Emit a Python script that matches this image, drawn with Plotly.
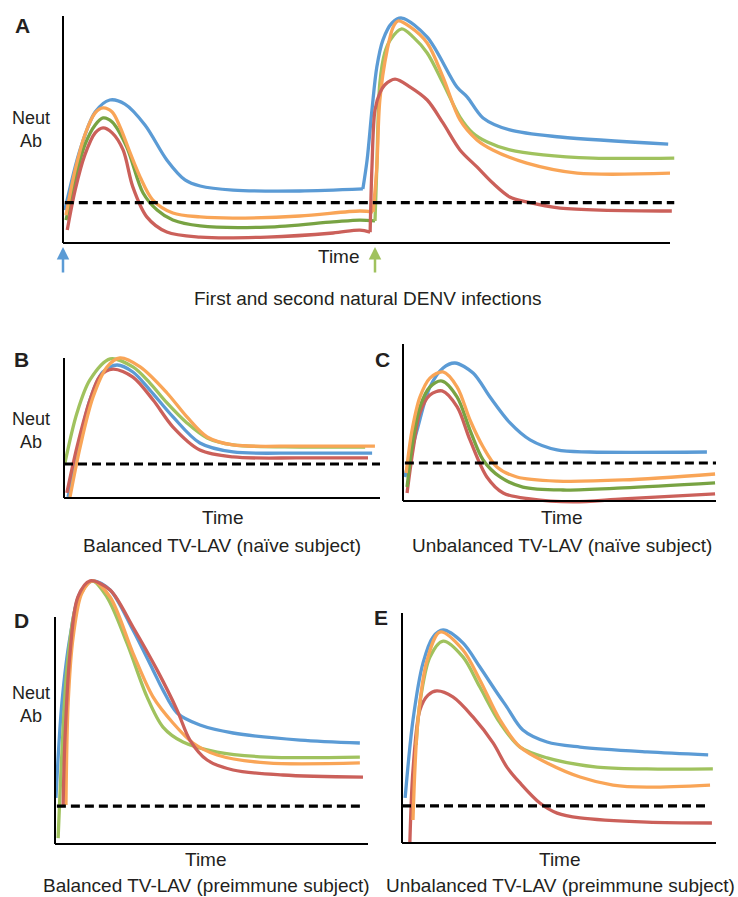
import plotly.graph_objects as go

W, H = 738, 897

BLUE = "#5B9BD5"
ORANGE = "#F9A557"
GREEN = "#A0C25E"
OLIVE = "#78A343"
RED = "#CB605A"
TXT = "#231F20"

# ---------------- data (arbitrary units: time 0-100 along axis, Neut Ab 0-100 up axis) -------------
# Panel A: first infection (…1) and second infection (…2)
a_blue1_t = [0.3, 2.8, 5.3, 7.7, 10.2, 13.5, 17.1, 20.1, 22.6, 28.0, 39.0, 49.4]
a_blue1_ab = [14.5, 41.0, 57.7, 63.0, 61.2, 52.0, 36.6, 27.8, 25.1, 23.3, 22.9, 23.8]
a_blue2_t = [49.4, 50.1, 50.9, 51.7, 52.7, 54.2, 55.8, 60.0, 64.9, 66.6, 69.2, 73.6, 81.9, 99.7]
a_blue2_ab = [23.8, 36.6, 58.6, 77.5, 89.4, 96.9, 99.1, 90.7, 68.7, 64.3, 55.1, 49.8, 46.7, 43.6]
a_orange1_t = [0.5, 2.0, 3.6, 5.3, 6.6, 8.1, 9.4, 11.0, 12.7, 14.8, 18.1, 22.6, 28.0, 39.0, 48.9, 51.1]
a_orange1_ab = [12.3, 32.2, 47.6, 57.3, 59.5, 57.7, 51.1, 40.1, 29.1, 18.9, 13.2, 11.5, 11.0, 11.9, 14.1, 13.7]
a_orange2_t = [51.1, 51.7, 52.2, 53.4, 54.4, 55.2, 57.2, 60.0, 62.6, 65.4, 68.2, 70.8, 76.4, 84.7, 100.0]
a_orange2_ab = [13.7, 33.5, 63.0, 85.0, 95.2, 97.8, 95.2, 88.1, 73.1, 54.2, 45.4, 41.0, 35.2, 30.8, 30.8]
a_green1_t = [0.5, 2.0, 3.6, 5.3, 6.6, 8.1, 10.5, 13.2, 15.5, 18.1, 22.6, 33.6, 44.5, 48.9, 51.4]
a_green1_ab = [10.1, 27.8, 43.2, 52.0, 55.1, 53.3, 42.3, 22.0, 14.5, 10.1, 7.5, 7.0, 9.3, 10.1, 9.7]
a_green2_t = [51.4, 51.7, 52.2, 53.0, 53.9, 55.8, 57.7, 60.0, 62.6, 65.4, 67.5, 69.9, 73.6, 79.1, 87.3, 100.7]
a_green2_ab = [9.7, 33.5, 70.5, 83.7, 89.4, 94.3, 90.7, 83.7, 70.5, 55.5, 48.5, 44.5, 41.0, 38.8, 37.4, 37.4]
a_red1_t = [0.7, 2.0, 3.6, 5.3, 6.6, 8.1, 9.9, 11.5, 13.8, 17.1, 22.6, 33.6, 44.5, 48.9, 50.6]
a_red1_ab = [5.7, 23.3, 38.8, 48.5, 50.7, 48.5, 41.0, 24.7, 11.5, 4.8, 2.6, 2.6, 4.4, 5.7, 4.8]
a_red2_t = [50.6, 50.9, 51.4, 52.2, 53.0, 54.7, 57.2, 60.0, 62.6, 65.4, 68.2, 70.8, 73.6, 76.4, 81.9, 100.3]
a_red2_ab = [4.8, 33.5, 58.6, 66.1, 69.6, 72.2, 68.7, 63.0, 52.9, 41.0, 33.5, 26.4, 20.3, 18.1, 15.4, 14.1]
a_threshold = 17.8
a_threshold_t = [0.3, 100.7]
infection_times = [0.0, 51.4]

# Panel B: balanced TV-LAV, naive subject
b_blue_t = [1.3, 4.4, 8.2, 12.3, 16.8, 21.8, 27.2, 34.5, 43.0, 53.5, 74.7, 97.5]
b_blue_ab = [0.7, 34.3, 70.0, 90.0, 95.0, 90.0, 77.1, 57.9, 39.3, 32.9, 32.1, 32.1]
b_green_t = [0.3, 4.1, 8.2, 14.6, 21.8, 27.2, 32.6, 38.9, 45.3, 53.5, 74.7, 95.3]
b_green_ab = [25.0, 60.7, 84.3, 99.3, 93.6, 82.1, 67.9, 53.6, 42.9, 37.9, 36.4, 36.4]
b_orange_t = [1.9, 5.1, 9.2, 13.6, 17.7, 24.1, 32.6, 38.9, 45.3, 53.5, 74.7, 98.4]
b_orange_ab = [0.7, 36.4, 72.1, 93.6, 100.0, 93.6, 75.0, 57.9, 43.6, 37.9, 37.1, 37.1]
b_red_t = [0.9, 4.1, 8.2, 11.4, 15.5, 21.8, 28.2, 34.5, 43.0, 53.5, 74.7, 96.2]
b_red_ab = [3.6, 36.4, 70.0, 87.1, 92.1, 86.4, 70.0, 50.7, 34.3, 29.3, 28.6, 28.6]
b_threshold = 24.3
b_threshold_t = [0.0, 100.0]

# Panel C: unbalanced TV-LAV, naive subject
c_blue_t = [0.6, 4.5, 8.6, 12.8, 16.6, 22.4, 27.8, 34.2, 40.6, 49.2, 59.7, 97.1]
c_blue_ab = [15.3, 45.2, 72.6, 84.7, 87.9, 81.5, 66.2, 49.7, 38.9, 32.5, 31.2, 31.2]
c_green_t = [1.3, 3.2, 5.4, 8.6, 12.5, 17.3, 21.4, 25.6, 31.0, 38.3, 51.1, 70.3, 99.7]
c_green_ab = [8.9, 38.9, 59.9, 72.6, 76.4, 66.2, 45.2, 26.1, 15.3, 8.9, 7.0, 8.3, 11.5]
c_orange_t = [1.0, 2.9, 5.4, 8.6, 12.8, 17.3, 21.4, 25.6, 30.0, 36.4, 49.2, 70.3, 99.7]
c_orange_ab = [17.8, 45.2, 66.2, 78.3, 82.2, 72.6, 51.6, 34.4, 21.7, 15.3, 12.7, 13.4, 17.2]
c_red_t = [1.3, 3.2, 5.4, 8.6, 12.5, 17.3, 21.4, 26.8, 32.0, 40.6, 54.3, 70.3, 99.7]
c_red_ab = [5.1, 32.5, 56.1, 67.5, 70.1, 59.9, 38.9, 15.3, 5.1, 1.3, -0.6, 1.3, 4.5]
c_threshold = 24.2
c_threshold_t = [0.6, 100.0]

# Panel D: balanced TV-LAV, preimmune subject
d_blue_t = [0.3, 2.2, 4.8, 8.0, 12.1, 17.6, 24.9, 31.3, 34.5, 39.0, 46.3, 56.9, 78.3, 97.4]
d_blue_ab = [20.3, 62.1, 91.2, 110.6, 115.9, 111.9, 94.3, 76.7, 67.8, 57.7, 52.4, 48.9, 45.8, 44.5]
d_green_t = [1.0, 2.2, 3.8, 7.0, 11.8, 16.6, 23.0, 29.4, 34.5, 40.9, 51.8, 67.7, 97.4]
d_green_ab = [2.6, 40.1, 76.7, 106.2, 115.9, 108.8, 88.5, 64.8, 51.5, 44.9, 40.5, 38.3, 38.3]
d_orange_t = [3.5, 4.2, 5.8, 8.6, 12.1, 17.6, 24.9, 31.3, 37.7, 44.1, 51.8, 67.7, 97.4]
d_orange_ab = [17.2, 62.1, 91.2, 110.6, 115.9, 108.8, 84.1, 64.8, 53.3, 44.5, 39.2, 35.7, 35.7]
d_red_t = [2.6, 3.2, 4.8, 7.3, 11.2, 17.6, 24.9, 32.6, 39.0, 43.1, 48.6, 56.9, 72.8, 98.4]
d_red_ab = [17.2, 47.1, 84.1, 108.8, 115.9, 111.9, 95.6, 76.7, 59.0, 45.8, 37.0, 32.6, 30.4, 29.5]
d_threshold = 16.7
d_threshold_t = [0.6, 99.0]

# Panel E: unbalanced TV-LAV, preimmune subject
e_blue_t = [1.0, 3.5, 6.7, 9.9, 13.1, 19.4, 24.8, 30.3, 33.4, 38.5, 46.2, 56.7, 78.0, 97.5]
e_blue_ab = [19.6, 53.5, 78.3, 89.6, 92.6, 87.0, 76.5, 65.2, 59.1, 49.1, 43.9, 41.7, 39.6, 38.3]
e_green_t = [4.5, 5.7, 8.9, 13.1, 19.4, 24.8, 31.2, 37.6, 46.2, 62.1, 78.0, 99.0]
e_green_ab = [42.6, 60.9, 80.9, 87.8, 80.9, 67.8, 52.2, 41.7, 37.0, 33.0, 32.2, 32.2]
e_orange_t = [3.5, 5.1, 8.0, 12.1, 19.4, 24.8, 31.2, 37.6, 46.2, 56.7, 67.2, 78.0, 98.1]
e_orange_ab = [10.0, 53.5, 79.6, 91.7, 83.9, 70.9, 53.5, 41.7, 34.8, 28.7, 25.2, 24.3, 25.2]
e_red_t = [2.5, 3.5, 5.7, 8.3, 11.1, 16.2, 22.6, 29.0, 33.4, 37.6, 43.9, 49.4, 56.7, 78.0, 98.7]
e_red_ab = [0.0, 31.7, 57.8, 64.3, 66.1, 63.5, 54.8, 43.5, 33.0, 26.1, 17.4, 13.0, 10.9, 9.1, 8.7]
e_threshold = 16.1
e_threshold_t = [0.0, 98.0]

panel_letters = ["A", "B", "C", "D", "E"]
captions = ["First and second natural DENV infections",
            "Balanced TV-LAV (naïve subject)",
            "Unbalanced TV-LAV (naïve subject)",
            "Balanced TV-LAV (preimmune subject)",
            "Unbalanced TV-LAV (preimmune subject)"]

# ---------------- layout geometry (pixels) -------------
frames = [
    dict(x0=63, x1=670, y0=243, y1=16, box=(55, 692, 8, 250)),
    dict(x0=64, x1=380, y0=498, y1=358, box=(56, 392, 345, 506)),
    dict(x0=403, x1=716, y0=501, y1=344, box=(396, 726, 336, 509)),
    dict(x0=55, x1=368, y0=844, y1=617, box=(48, 376, 570, 851)),
    dict(x0=402, x1=716, y0=843, y1=613, box=(395, 726, 598, 851)),
]

fig = go.Figure()
layout = dict(width=W, height=H, margin=dict(l=0, r=0, t=0, b=0),
              paper_bgcolor="white", plot_bgcolor="rgba(0,0,0,0)", showlegend=False)
shapes = []
for i, f in enumerate(frames):
    L, R, T, B = f["box"]
    sx = (f["x1"] - f["x0"]) / 100.0
    sy = (f["y0"] - f["y1"]) / 100.0
    xr = [(L - f["x0"]) / sx, (R - f["x0"]) / sx]
    yr = [(f["y0"] - B) / sy, (f["y0"] - T) / sy]
    n = "" if i == 0 else str(i + 1)
    layout["xaxis" + n] = dict(domain=[L / W, R / W], range=xr, visible=False, anchor="y" + n, fixedrange=True)
    layout["yaxis" + n] = dict(domain=[1 - B / H, 1 - T / H], range=yr, visible=False, anchor="x" + n, fixedrange=True)
    xa, ya = "x" + n, "y" + n
    shapes.append(dict(type="line", xref=xa, yref=ya, x0=0, x1=100, y0=0, y1=0, line=dict(color="black", width=2)))
    shapes.append(dict(type="line", xref=xa, yref=ya, x0=0, x1=0, y0=0, y1=100, line=dict(color="black", width=2)))

panels = [
    ([(a_blue1_t, a_blue1_ab, BLUE), (a_blue2_t, a_blue2_ab, BLUE),
      (a_green1_t, a_green1_ab, OLIVE), (a_green2_t, a_green2_ab, GREEN),
      (a_orange1_t, a_orange1_ab, ORANGE), (a_orange2_t, a_orange2_ab, ORANGE),
      (a_red1_t, a_red1_ab, RED), (a_red2_t, a_red2_ab, RED)], a_threshold, a_threshold_t),
    ([(b_blue_t, b_blue_ab, BLUE), (b_red_t, b_red_ab, RED), (b_green_t, b_green_ab, GREEN),
      (b_orange_t, b_orange_ab, ORANGE)], b_threshold, b_threshold_t),
    ([(c_blue_t, c_blue_ab, BLUE), (c_red_t, c_red_ab, RED), (c_green_t, c_green_ab, OLIVE),
      (c_orange_t, c_orange_ab, ORANGE)], c_threshold, c_threshold_t),
    ([(d_blue_t, d_blue_ab, BLUE), (d_green_t, d_green_ab, GREEN), (d_orange_t, d_orange_ab, ORANGE),
      (d_red_t, d_red_ab, RED)], d_threshold, d_threshold_t),
    ([(e_blue_t, e_blue_ab, BLUE), (e_red_t, e_red_ab, RED), (e_green_t, e_green_ab, GREEN),
      (e_orange_t, e_orange_ab, ORANGE)], e_threshold, e_threshold_t),
]

for i, (curves, thr, thr_t) in enumerate(panels):
    n = "" if i == 0 else str(i + 1)
    for t, ab, col in curves:
        fig.add_trace(go.Scatter(x=t, y=ab, mode="lines", xaxis="x" + n, yaxis="y" + n,
                                 line=dict(color=col, width=3.3, shape="spline", smoothing=0.9),
                                 hoverinfo="skip"))
    fig.add_trace(go.Scatter(x=thr_t, y=[thr, thr], mode="lines", xaxis="x" + n, yaxis="y" + n,
                             line=dict(color="black", width=3.2, dash="9px,5px"), hoverinfo="skip"))

FONT = "Liberation Sans, Arial, Helvetica, sans-serif"
ann = []

def txt(x, y, s, size=19, bold=False, anchor="middle"):
    ann.append(dict(x=x / W, y=1 - y / H, xref="paper", yref="paper", text=("<b>%s</b>" % s) if bold else s,
                    showarrow=False, xanchor="center", yanchor=anchor, borderpad=0,
                    font=dict(family=FONT, size=size, color=TXT)))

letter_pos = [(22, 25), (21, 359), (382, 359), (21, 620), (381, 617)]
time_pos = [(339, 257), (223, 517), (562, 517), (206, 859), (560, 859)]
caption_pos = [(367, 299), (222, 545), (562, 545), (206, 897), (560, 897)]
caption_anchor = ["middle", "middle", "middle", "bottom", "bottom"]
neut_pos = [(31, 129), (31, 430), None, (31, 704), None]

for i in range(5):
    txt(*letter_pos[i], panel_letters[i], size=21, bold=True)
    txt(*time_pos[i], "Time")
    txt(*caption_pos[i], captions[i], anchor=caption_anchor[i])
    if neut_pos[i]:
        x, y = neut_pos[i]
        txt(x, y, "Neut<br>Ab", size=18)

# infection arrows in panel A
for tt, col in zip(infection_times, [BLUE, GREEN]):
    ann.append(dict(x=tt, xref="x", y=1 - 247 / H, yref="paper", text="", showarrow=True,
                    ax=0, ay=27, arrowhead=2, arrowsize=1, arrowwidth=2.5, arrowcolor=col, standoff=0))

layout["annotations"] = ann
layout["shapes"] = shapes
fig.update_layout(**layout)
fig.write_html("out.html", config={"displayModeBar": False},
               post_script="document.body.style.margin='0';document.body.style.overflow='hidden';")
